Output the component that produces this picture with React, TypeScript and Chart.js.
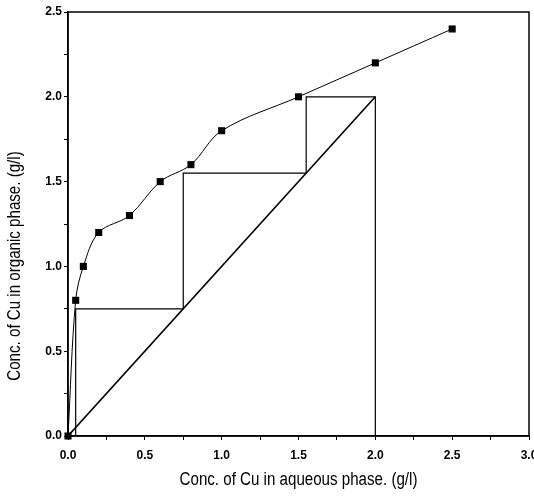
import React, { useEffect, useRef } from 'react';
import { Chart, registerables } from 'chart.js';

Chart.register(...registerables);

// Equilibrium isotherm (measured points)
const aqueousConc = [0, 0.05, 0.1, 0.2, 0.4, 0.6, 0.8, 1.0, 1.5, 2.0, 2.5];
const organicConc = [0, 0.8, 1.0, 1.2, 1.3, 1.5, 1.6, 1.8, 2.0, 2.2, 2.4];
// Operating line
const operatingX = [0, 2.0];
const operatingY = [0, 2.0];
// McCabe-Thiele stage construction
const stageX = [2.0, 2.0, 1.55, 1.55, 0.75, 0.75, 0.05, 0.05];
const stageY = [0, 2.0, 2.0, 1.55, 1.55, 0.75, 0.75, 0];
// Tick labels
const xTickLabels = ['0.0', '0.5', '1.0', '1.5', '2.0', '2.5', '3.0'];
const yTickLabels = ['0.0', '0.5', '1.0', '1.5', '2.0', '2.5'];
const xTitle = 'Conc. of Cu in aqueous phase. (g/l)';
const yTitle = 'Conc. of Cu in organic phase. (g/l)';

const zip = (xs: number[], ys: number[]) => xs.map((x, i) => ({ x, y: ys[i] }));

const labelFor = (labels: string[]) => (v: number | string) => {
  const s = Number(v).toFixed(1);
  const onGrid = Math.abs(Number(v) * 2 - Math.round(Number(v) * 2)) < 1e-6;
  return onGrid && labels.includes(s) ? s : '';
};

const framePlugin = {
  id: 'frameAndTitles',
  afterDraw(chart: any) {
    const { ctx, chartArea } = chart;
    ctx.save();
    ctx.strokeStyle = '#000';
    ctx.lineWidth = 1.5;
    ctx.strokeRect(chartArea.left, chartArea.top, chartArea.right - chartArea.left, chartArea.bottom - chartArea.top);
    ctx.fillStyle = '#000';
    ctx.font = '18px "Liberation Sans", Arial, sans-serif';
    ctx.textAlign = 'center';
    ctx.textBaseline = 'alphabetic';
    ctx.save();
    ctx.translate((chartArea.left + chartArea.right) / 2, 485);
    ctx.scale(0.84, 1);
    ctx.fillText(xTitle, 0, 0);
    ctx.restore();
    ctx.save();
    ctx.translate(20, 266);
    ctx.rotate(-Math.PI / 2);
    ctx.scale(0.84, 1);
    ctx.fillText(yTitle, 0, 0);
    ctx.restore();
    ctx.restore();
  },
};

export default function App() {
  const ref = useRef<HTMLCanvasElement | null>(null);
  useEffect(() => {
    if (!ref.current) return;
    const tickFont = { family: '"Liberation Sans", Arial, sans-serif', size: 12, weight: 'bold' as const };
    const chart = new Chart(ref.current, {
      type: 'scatter',
      data: {
        datasets: [
          {
            data: zip(aqueousConc, organicConc),
            showLine: true,
            borderColor: '#000',
            borderWidth: 1,
            backgroundColor: '#000',
            pointStyle: 'rect',
            pointRadius: 5,
            pointBorderWidth: 0,
            tension: 0.35,
            clip: false,
            order: 0,
          } as any,
          {
            data: zip(operatingX, operatingY),
            showLine: true,
            borderColor: '#000',
            borderWidth: 1.6,
            pointRadius: 0,
            tension: 0,
            order: 1,
          },
          {
            data: zip(stageX, stageY),
            showLine: true,
            borderColor: '#000',
            borderWidth: 1.2,
            pointRadius: 0,
            tension: 0,
            order: 2,
          },
        ],
      },
      options: {
        animation: false,
        responsive: false,
        events: [],
        layout: { padding: { top: 12, right: 4, left: 0, bottom: 0 } },
        plugins: { legend: { display: false }, tooltip: { enabled: false } },
        scales: {
          x: {
            type: 'linear',
            min: 0,
            max: 3,
            afterFit(scale: any) {
              scale.height = 60;
              scale.paddingLeft = 0;
              scale.paddingRight = 0;
            },
            border: { display: true, color: '#000', width: 1.5 },
            grid: { drawOnChartArea: false, drawTicks: true, tickLength: 4, color: '#000' },
            ticks: {
              stepSize: 0.25,
              autoSkip: false,
              maxRotation: 0,
              padding: 8,
              color: '#000',
              font: tickFont,
              callback: labelFor(xTickLabels),
            },
          },
          y: {
            type: 'linear',
            min: 0,
            max: 2.5,
            afterFit(scale: any) {
              scale.width = 68;
              scale.paddingTop = 0;
              scale.paddingBottom = 0;
            },
            border: { display: true, color: '#000', width: 1.5 },
            grid: { drawOnChartArea: false, drawTicks: true, tickLength: 4, color: '#000' },
            ticks: {
              stepSize: 0.25,
              autoSkip: false,
              padding: 2,
              color: '#000',
              font: tickFont,
              callback: labelFor(yTickLabels),
            },
          },
        },
      } as any,
      plugins: [framePlugin],
    });
    return () => chart.destroy();
  }, []);
  return (
    <div style={{ position: 'absolute', left: 0, top: 0, width: 534, height: 496, background: '#fff' }}>
      <canvas ref={ref} width={534} height={496} />
    </div>
  );
}
